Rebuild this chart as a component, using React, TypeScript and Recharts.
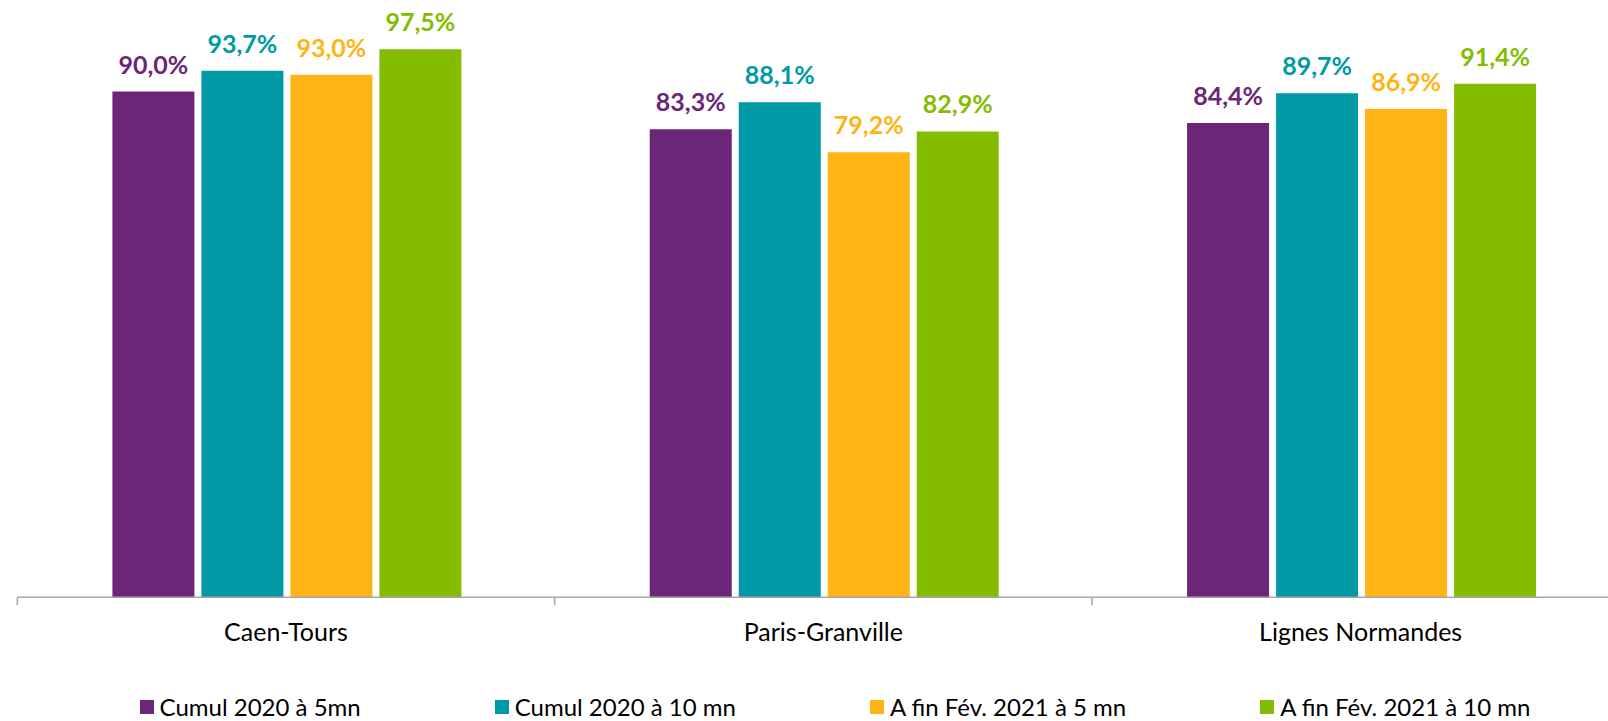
import React from "react";
import { Bar, BarChart, LabelList, Legend, XAxis, YAxis } from "recharts";

const categories = ["Caen-Tours", "Paris-Granville", "Lignes Normandes"];
const cumul5 = [90.0, 83.3, 84.4];
const cumul10 = [93.7, 88.1, 89.7];
const fev5 = [93.0, 79.2, 86.9];
const fev10 = [97.5, 82.9, 91.4];

const seriesNames = [
  "Cumul 2020 à 5mn",
  "Cumul 2020 à 10 mn",
  "A fin Fév. 2021 à 5 mn",
  "A fin Fév. 2021 à 10 mn",
];
const colors = ["#6B2677", "#009AA6", "#FEB414", "#84BD00"];

const data = categories.map((name, i) => ({
  name,
  s0: cumul5[i],
  s1: cumul10[i],
  s2: fev5[i],
  s3: fev10[i],
}));

const FONT = "Lato, 'Open Sans', sans-serif";

const fmt = (v: any) => `${Number(v).toFixed(1).replace(".", ",")}%`;

function CategoryTick(props: any) {
  const { x, y, payload } = props;
  const half = payload?.offset ?? 0;
  return (
    <g>
      <line x1={x - half} x2={x - half} y1={y} y2={y + 8} stroke="#A6A6A6" strokeWidth={1.5} />
      <text x={x} y={y + 44} textAnchor="middle" fill="#000" fontSize={25} fontFamily={FONT}>
        {payload.value}
      </text>
    </g>
  );
}

function LegendContent(props: any) {
  const items = [...(props.payload || [])].sort(
    (a: any, b: any) => seriesNames.indexOf(a.value) - seriesNames.indexOf(b.value)
  );
  return (
    <div
      style={{
        display: "flex",
        justifyContent: "center",
        gap: 134,
        fontFamily: FONT,
        fontSize: 24,
        lineHeight: 1,
        color: "#000",
      }}
    >
      {items.map((p: any) => (
        <div key={p.value} style={{ display: "flex", alignItems: "center", whiteSpace: "nowrap" }}>
          <span style={{ width: 14, height: 14, background: p.color, display: "inline-block", marginRight: 6 }} />
          <span>{p.value}</span>
        </div>
      ))}
    </div>
  );
}

export default function App() {
  return (
    <div style={{ position: "absolute", left: 0, top: 0, width: 1608, height: 721, overflow: "hidden", background: "#fff" }}>
      <BarChart
        width={1640}
        height={721}
        data={data}
        margin={{ top: 35.3, right: 10.7, bottom: 63.7, left: 17.3 }}
        barCategoryGap="17.7%"
        barGap={7}
      >
        <XAxis
          dataKey="name"
          height={60}
          tickLine={false}
          tickSize={0}
          tickMargin={0}
          axisLine={{ stroke: "#A6A6A6", strokeWidth: 1.5 }}
          tick={<CategoryTick />}
          interval={0}
        />
        <YAxis hide domain={[0, 100]} />
        <Legend
          verticalAlign="middle"
          align="center"
          layout="horizontal"
          content={<LegendContent />}
          wrapperStyle={{ top: 695, left: 0, width: 1670 }}
        />
        {["s0", "s1", "s2", "s3"].map((k, i) => (
          <Bar key={k} dataKey={k} name={seriesNames[i]} fill={colors[i]} isAnimationActive={false}>
            <LabelList
              dataKey={k}
              position="top"
              offset={18}
              formatter={fmt}
              fill={colors[i]}
              fontSize={25}
              fontWeight={700}
              fontFamily={FONT}
            />
          </Bar>
        ))}
      </BarChart>
    </div>
  );
}
